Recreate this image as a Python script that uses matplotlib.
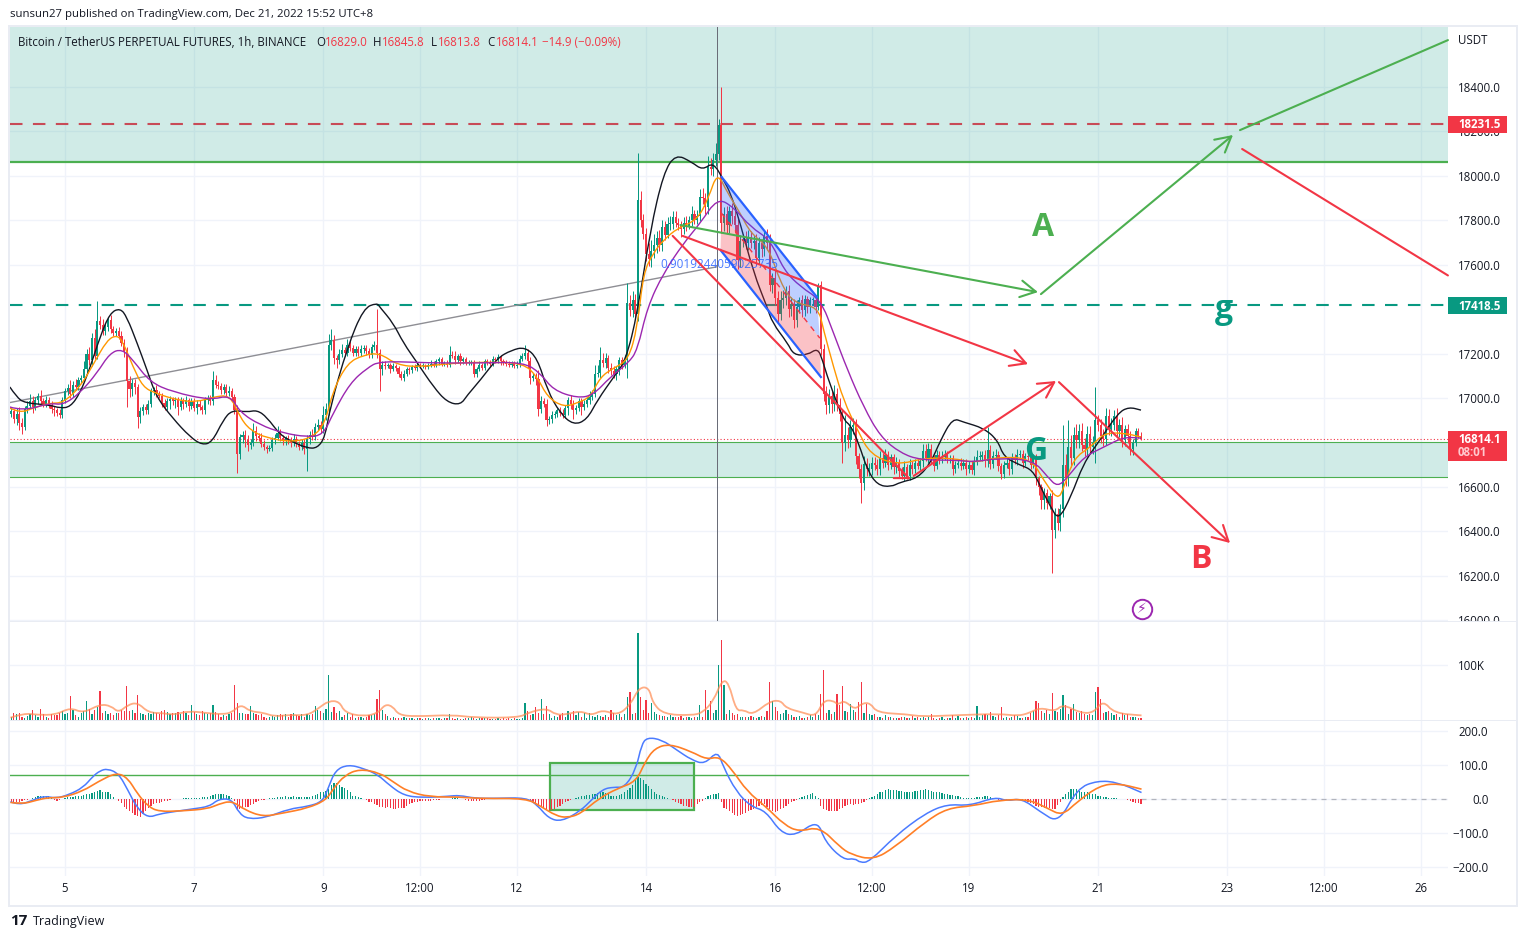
import numpy as np
import matplotlib
matplotlib.use('Agg')
import matplotlib.pyplot as plt
from matplotlib.patches import Rectangle, Polygon, PathPatch
from matplotlib.path import Path

plt.rcParams['font.family'] = ['Open Sans', 'DejaVu Sans']

# hourly bars, hour 0 = Dec 5 00:00, first bar is hour -20
closes = [
    16940,16905,16930,16890,16870,16950,16965,16985,16960,16990,17010,16985,16975,16990,16970,16950,16945,16935,16925,16990,
    17030,17045,17020,17060,17050,17080,17090,17130,17200,17170,17270,17190,17345,17330,17300,17320,17350,17310,17295,17300,
    17280,17250,17210,17075,17040,17070,17050,16915,16940,16960,16945,16975,17030,17035,17020,17010,16980,16960,16985,16995,
    16985,16990,16960,16985,16975,16990,16965,16985,16955,16975,16960,16945,16990,17000,16985,17080,17060,17055,17035,17050,
    17025,17030,17005,16945,16750,16825,16835,16810,16790,16800,16850,16830,16820,16795,16780,16770,16775,16810,16820,16845,
    16820,16805,16820,16810,16800,16815,16795,16780,16800,16770,16815,16835,16825,16870,16880,16860,16925,16950,17240,17260,
    17180,17170,17200,17215,17205,17240,17225,17205,17220,17205,17220,17225,17210,17195,17230,17240,17205,17130,17150,17145,
    17150,17130,17145,17135,17110,17090,17110,17130,17125,17140,17135,17150,17145,17145,17140,17150,17155,17150,17165,17175,
    17155,17155,17150,17195,17190,17170,17190,17165,17175,17160,17160,17160,17110,17130,17150,17135,17165,17160,17155,17175,
    17170,17185,17165,17160,17155,17150,17155,17145,17150,17175,17190,17205,17165,17090,17100,17085,16950,16985,16975,16900,
    16905,16925,16930,16945,16935,16925,16955,16990,16975,16945,16955,16985,16960,16975,16990,17005,17020,17110,17115,17170,
    17160,17180,17135,17120,17110,17130,17170,17150,17170,17430,17395,17440,17380,17890,17800,17740,17650,17625,17660,17690,
    17720,17690,17770,17735,17785,17785,17815,17790,17780,17760,17790,17775,17800,17830,17800,17820,17905,17900,17860,18040,
    18030,18070,18100,18230,17790,17830,17780,17840,17820,17780,17620,17705,17715,17700,17725,17700,17705,17630,17700,17670,
    17730,17700,17510,17540,17450,17380,17440,17450,17480,17400,17420,17350,17410,17440,17395,17445,17410,17440,17440,17410,
    17510,17220,17020,16970,17010,16975,17020,16970,16930,16800,16835,16810,16870,16880,16740,16680,16620,16705,16680,16680,
    16710,16700,16680,16730,16710,16745,16700,16735,16690,16710,16670,16650,16690,16650,16700,16680,16710,16695,16715,16760,
    16730,16770,16730,16695,16745,16725,16735,16745,16725,16730,16680,16700,16710,16695,16710,16680,16700,16675,16715,16735,
    16735,16745,16715,16765,16705,16740,16745,16695,16660,16700,16710,16680,16730,16720,16745,16750,16710,16740,16735,16700,
    16735,16640,16600,16540,16575,16530,16560,16405,16480,16440,16500,16700,16640,16780,16730,16835,16810,16850,16790,16770,
    16840,16780,16800,16900,16880,16830,16815,16920,16860,16880,16920,16850,16880,16810,16860,16830,16770,16800,16850,16829,
    16814]
upper_wicks = [
    15,10,25,30,20,15,20,35,25,15,15,25,15,20,15,15,15,10,15,15,
    15,20,35,15,25,15,15,35,20,30,25,40,90,25,25,20,15,25,15,15,
    20,20,15,20,25,15,15,15,20,15,15,15,15,15,25,10,15,15,15,15,
    10,15,15,20,15,20,10,15,15,15,15,10,15,15,15,40,25,15,15,15,
    15,25,15,15,25,15,15,20,25,15,40,25,15,25,15,10,15,15,20,30,
    15,15,10,15,15,25,15,10,15,15,20,15,25,20,25,15,40,30,50,50,
    25,15,20,30,15,25,15,15,15,15,20,15,15,15,15,15,160,15,15,15,
    10,10,15,10,10,10,15,10,10,10,15,10,10,15,10,10,15,10,10,10,
    10,10,15,40,15,20,10,15,10,10,10,10,10,10,15,10,10,10,10,15,
    10,15,10,10,10,10,10,10,15,20,15,35,15,20,15,15,40,25,15,20,
    15,15,10,10,15,15,15,15,25,15,15,15,15,15,15,25,15,40,35,60,
    35,25,15,25,25,15,15,15,25,90,35,40,30,215,40,30,25,50,50,50,
    30,35,30,25,30,35,25,25,20,15,25,30,20,35,15,25,35,40,25,50,
    40,35,50,25,170,30,35,25,40,35,35,30,25,35,30,25,30,35,25,15,
    25,30,40,25,35,30,40,35,25,30,35,25,30,15,25,20,15,15,15,20,
    10,15,25,35,30,25,40,25,30,20,90,35,30,30,25,15,25,35,25,30,
    25,25,25,30,25,25,15,15,15,25,15,20,25,15,25,15,15,15,15,35,
    35,30,25,15,20,15,25,20,15,15,15,15,15,20,15,15,15,15,25,30,
    25,15,20,105,25,20,25,15,15,15,20,15,25,20,25,15,15,15,15,25,
    15,15,10,15,20,15,15,25,25,25,25,180,50,120,55,35,50,35,40,30,
    35,35,30,150,25,25,30,35,30,30,25,35,25,35,20,25,20,15,15,15,
    17]
lower_wicks = [
    15,15,25,35,30,15,15,10,25,15,15,15,15,15,15,15,25,15,15,15,
    10,15,20,15,15,15,10,15,15,20,25,15,15,20,15,15,20,15,15,15,
    15,15,25,115,35,30,30,50,25,15,15,15,15,15,15,10,20,15,15,35,
    15,30,35,15,25,15,25,15,15,25,15,15,15,15,15,15,15,15,15,15,
    15,15,20,15,87,25,25,30,30,20,15,25,15,15,15,15,10,15,15,10,
    15,15,15,15,20,15,15,15,15,20,100,20,15,15,15,15,15,25,25,25,
    25,35,15,15,15,15,15,15,15,15,15,15,15,15,15,15,25,100,25,15,
    10,15,10,15,15,10,15,10,15,10,10,15,10,10,10,10,10,10,10,15,
    10,10,10,10,10,15,10,15,10,10,10,10,15,15,10,10,10,10,10,10,
    10,10,15,10,10,10,10,10,10,10,10,15,30,25,15,25,30,15,15,25,
    15,15,15,15,15,15,15,30,25,40,15,15,35,15,15,15,15,15,15,25,
    20,25,20,15,20,30,25,20,15,80,25,30,25,35,30,25,35,30,35,30,
    35,30,30,25,15,30,25,20,25,35,20,25,15,25,15,15,25,25,30,30,
    25,30,25,30,45,40,35,35,35,35,40,30,25,30,35,25,30,30,25,35,
    30,35,30,35,30,40,30,35,30,35,30,35,30,25,30,25,25,25,15,25,
    15,25,35,40,35,40,35,30,35,90,40,35,30,30,35,40,90,35,30,30,
    25,25,25,25,25,20,25,20,30,25,25,15,25,15,20,20,15,15,20,25,
    15,20,25,25,15,20,15,15,15,15,25,15,15,20,15,25,15,15,20,15,
    15,20,25,25,25,20,15,25,25,20,15,25,20,15,20,15,25,15,15,20,
    15,30,35,40,40,30,30,190,35,35,40,35,35,35,40,30,35,35,30,30,
    30,30,30,90,30,30,30,25,25,30,25,25,25,30,25,30,25,25,15,10,
    1]
# volume in thousands
volumes = [
    8,14,13,14,8,6,9,12,20,10,8,22,12,7,6,13,10,10,14,18,
    12,15,45,20,10,8,14,18,36,22,13,20,25,53,14,18,12,15,10,14,
    15,20,17,62,18,20,15,46,14,12,10,15,12,16,14,12,18,20,16,12,
    14,15,16,12,18,14,10,28,16,12,10,18,14,12,15,28,16,12,8,10,
    9,12,15,64,32,15,14,12,13,27,15,12,10,12,8,6,7,9,8,10,
    12,10,13,8,12,14,10,9,12,8,13,10,12,27,20,18,15,22,82,16,
    25,15,18,8,10,14,8,12,6,7,8,6,8,10,10,12,39,55,20,12,
    9,6,7,6,5,6,7,5,5,6,4,5,5,4,6,5,4,5,5,6,
    4,5,5,13,6,4,5,4,4,5,6,7,5,4,5,5,6,5,4,4,
    4,5,4,5,4,5,4,5,4,4,5,32,18,10,12,25,14,40,12,27,
    12,6,9,8,10,14,7,17,12,18,10,16,8,14,5,15,9,8,11,9,
    7,10,8,20,15,10,12,8,12,43,52,12,14,157,43,20,37,15,33,16,
    12,10,9,9,8,10,8,7,8,9,6,7,8,6,7,8,28,7,55,20,
    36,15,20,101,145,64,13,20,15,10,12,8,8,7,8,9,8,5,7,9,
    8,18,70,36,25,18,12,15,20,12,10,8,7,9,6,6,8,10,8,12,
    10,49,92,15,20,12,16,49,28,63,18,16,30,20,16,34,70,14,30,12,
    10,12,8,7,6,10,8,7,6,5,6,7,8,6,6,9,6,7,5,8,
    5,7,12,5,4,6,8,4,5,6,10,5,9,6,5,7,6,7,6,27,
    8,10,12,10,16,9,8,10,25,6,8,6,7,10,9,6,5,7,8,15,
    17,36,32,18,14,20,12,50,18,16,22,46,28,12,22,30,16,14,18,12,
    10,12,10,52,61,40,15,16,18,14,10,12,8,14,10,12,8,7,8,6,
    5]
macd_hist = [
    -10,-9,-9,-8,-6,-4,-3,-1,2,5,8,9,10,10,9,3,-4,-5,-3,1,
    3,5,6,7,8,9,10,12,14,16,18,20,23,25,22,22,20,14,5,0,
    -5,-12,-22,-30,-36,-42,-46,-50,-52,-45,-35,-25,-20,-16,-13,-12,-9,-7,-5,-3,
    -1,0,1,0,2,3,3,3,2,3,4,5,5,6,8,12,14,16,15,14,
    12,10,4,-5,-30,-28,-26,-24,-22,-18,-14,-10,-6,-4,-2,0,2,3,4,5,
    6,7,8,7,6,8,6,5,6,6,6,7,9,12,15,20,22,24,30,40,
    48,48,42,35,32,25,20,10,8,5,3,1,-3,-8,-10,-14,-18,-22,-24,-25,
    -24,-26,-28,-28,-27,-26,-25,-20,-15,-12,-10,-8,-7,-6,-5,-5,-5,-4,-3,-2,
    -1,0,1,1,2,2,2,1,0,-3,-5,-6,-7,-6,-5,-4,-2,-1,0,0,
    1,1,1,1,2,2,2,1,1,1,1,0,-3,-6,-10,-15,-18,-22,-26,-30,
    -32,-32,-28,-24,-20,-15,-10,-6,-2,1,4,6,8,10,11,12,14,16,18,20,
    20,18,14,10,8,9,12,15,20,25,32,42,55,66,62,55,45,38,30,22,
    15,12,8,5,2,0,-4,-8,-12,-16,-20,-21,-22,-22,-22,-16,-10,-6,2,8,
    12,14,16,18,-8,-25,-30,-36,-42,-46,-50,-48,-44,-40,-36,-32,-28,-24,-20,-17,
    -15,-22,-30,-36,-38,-34,-30,-26,-20,-15,-10,-6,-3,2,6,9,12,15,18,10,
    3,-20,-30,-32,-34,-35,-35,-34,-30,-26,-20,-18,-15,-18,-16,-15,-12,-8,-3,2,
    6,10,15,20,22,25,28,27,26,25,24,23,22,22,22,22,23,24,25,26,
    28,26,24,22,20,20,18,16,14,12,12,10,8,6,4,3,2,3,4,5,
    6,7,8,8,6,3,1,-2,-4,-5,-3,-1,0,1,1,0,-2,-4,-8,-12,
    -16,-20,-22,-24,-25,-26,-27,-28,-28,-18,-8,6,15,22,28,30,28,24,22,20,
    20,18,16,14,10,8,6,5,4,3,2,2,1,1,0,-3,-6,-9,-11,-13,
    -15]

black_hours = [-20.5,-18,-15,-5.6,-2,2,5.6,9,13,16.7,20.5,23,26.8,30.5,34,40,46.5,51,54.7,58.8,62,67.7,71.4,75,80,84.8,90,93.8,96.7,98.6,105,111,116,117,122,125.8,131,137,142,147,149.6,154.4,160.7,166,171,175.6,179.3,184,189,194,198,204,208.5,212.8,217.6,222.5,227,233,237,241,244.8,247.4,251,256,261,263,268.6,270.9,276,279.8,281.6,283.8,289.4,292,295,298.3,302,307,310.6,317,321.8,325.5,330,334,341.5,346.7,349,355,359.7,362.7,366.4,369.4,373.9,378.7,384,391.4,395.5,400]
black_vals = [17050,17005,16978,16969,16955,16960,17023,17126,17275,17383,17405,17365,17248,17126,17005,16910,16825,16789,16802,16901,16946,16937,16946,16915,16834,16802,16775,16775,16825,16960,17230,17405,17428,17410,17338,17248,17158,17050,16982,16969,17014,17081,17180,17216,17230,17180,17036,16933,16879,16902,16992,17095,17171,17383,17757,18013,18098,18062,18026,18062,17981,17923,17788,17563,17410,17338,17248,17194,17194,17225,17171,17081,16901,16879,16798,16676,16609,16600,16622,16640,16708,16811,16910,16892,16865,16811,16735,16699,16676,16600,16510,16451,16555,16708,16798,16933,16960,16946]
orange_hours = [-20.5,-16.7,-11.9,-5.6,-0.7,5.6,10.4,15.6,19.3,21.6,25.3,29,33.5,41.7,49,55,61.4,65,68.8,75,84.8,92.3,96.7,99.7,105,111,117,123.5,132,144.3,157,170.4,175.6,179.3,185.3,190.5,195.3,199,203.9,209.4,212.8,215,218.7,222.5,227.7,235,239.2,242.5,246.3,251,254.8,261.5,266,270.8,280,282,285.7,289.4,294.6,299.5,309.5,319.2,330.3,337.8,346.7,359,363.8,369,371.3,375,381.3,386.2,393.6,400]
orange_vals = [16955,16933,16955,16978,16978,17050,17149,17261,17284,17252,17140,17050,17023,16991,16982,17005,17014,16915,16856,16820,16802,16825,16888,17036,17158,17194,17203,17149,17140,17158,17162,17158,17095,17005,16960,16978,17005,17095,17135,17171,17320,17563,17653,17711,17765,17801,17900,18017,17923,17833,17743,17680,17518,17428,17410,17306,17140,16991,16856,16744,16699,16730,16730,16708,16735,16730,16631,16541,16595,16730,16780,16843,16843,16825]
purple_hours = [-20.5,-15.6,-5.6,-0.7,5.6,11.9,16.7,21.2,25.3,31.6,40.2,54,61.4,65,72.5,81,90,96,99.7,106,112.3,117,135.8,154.4,170.4,176.7,181.5,190.5,196.4,202.7,209.4,212.8,216.5,222.5,230,236.2,242.5,248.5,254.8,262.3,267.2,273.5,281,285.7,290.9,296.9,303.2,310.6,318,331.8,337.8,346.7,360,365.3,369,372.8,378.7,386.2,393.6,400]
purple_vals = [16960,16942,16978,16969,17023,17113,17203,17221,17171,17072,17027,16991,17014,16937,16879,16843,16825,16834,16933,17068,17135,17167,17158,17158,17162,17113,17036,17000,17014,17095,17158,17216,17410,17563,17698,17788,17900,17860,17770,17711,17576,17500,17441,17293,17126,16960,16825,16753,16721,16721,16712,16730,16721,16645,16600,16645,16735,16780,16825,16820]

vol_ma_hours = [-20.3,-15.2,-10.4,-3.5,2,6.8,13,17.1,19.9,23.4,27,31,36.4,40.6,46,53,58.5,62,65.4,68.8,73.6,77.8,83.3,90.2,94.3,98,102,104,110.9,116.4,119,121.9,124,130.1,143.9,152.2,168.7,172.2,179,182.5,186.6,191.6,195.7,199.9,205.4,210.2,213.4,217.1,218.5,222.6,232.9,237.1,241.2,244.2,246.7,249.5,252.2,255.7,261.9,266,268.1,274.3,279.1,281.9,285.3,287.4,289.7,293.6,296.3,299.4,301.8,312.9,318.4,329.4,347.3,354.2,358.3,362.5,368,371,377.6,382.5,385.9,390,400.2]
vol_ma_vals = [6,14,11,11,24,14,30,27,15,29,33,15,14,11,18,14,12,15,30,17,15,8,11,10,23,36,35,15,8,14,30,26,11,8,11,6,6,15,23,11,12,18,10,20,10,29,60,60,32,12,10,15,37,73,69,18,20,11,35,37,23,15,8,36,37,29,37,20,32,32,15,12,8,10,13,9,14,24,17,30,14,15,37,14,10]

macd_hours = [-20.3,-17,-11.8,-7.7,-3.5,1.3,6.8,10.3,13,15.8,19.9,23.4,26.8,30.9,35,40.6,47.5,53.7,57.1,62,64.7,68.1,75,83.3,90.2,95.7,97.8,100.5,105.3,110.9,116.4,120.5,126,132.9,142.5,146.7,152.2,160.5,171.5,175.6,179.8,184.6,191.6,195.7,199.9,204,208.1,212.3,214.3,216.4,221.9,227.4,232.9,237.8,242.6,244.7,249.5,255,260.5,266,271.5,279.8,282.5,289.4,293.6,295.6,299.1,308.7,319.8,328,336.3,345.9,350.1,355.6,362.5,369.4,376.3,383.8,391.4,400.2]
macd_vals = [-8,-18,-3,9,2,12,34,66,83,89,75,26,-27,-55,-44,-37,-29,-22,0,0,-42,-59,-54,-29,-22,-8,31,85,101,90,71,41,10,4,8,11,2,2,4,-18,-57,-66,-35,-3,29,35,34,88,159,181,174,144,115,102,142,95,22,-22,-35,-98,-108,-62,-125,-179,-174,-187,-184,-108,-42,-15,-20,6,-6,2,-37,-71,31,54,49,19]
signal_hours = [-20.3,-15.9,-10.4,-6.3,-0.8,6.8,12.3,19.2,23.4,26.8,30.9,35,43.3,53,57.1,62,66.8,73.6,80.5,90.2,97.1,99.8,104,109.5,117,121.9,127.4,135.7,146.7,155,171.5,177,182.5,186.6,191.6,198.5,205.4,212.3,215.7,219.2,224.7,232.9,238.5,243.3,248.1,253.6,260.5,267.4,272.9,280.5,288,292.2,300.5,308.7,319.8,328,337.7,347.3,358.3,365.2,370.7,376.3,384.5,391.4,400.2]
signal_vals = [-10,-15,-3,4,4,24,51,78,61,17,-22,-37,-35,-29,-15,-5,-32,-52,-42,-27,-3,31,70,88,77,51,22,6,6,1,2,-22,-49,-55,-44,2,31,51,110,149,162,139,116,125,85,22,-22,-76,-96,-81,-140,-163,-179,-140,-67,-27,-20,-3,-1,-27,-49,-8,39,46,29]

price_ticks = [18400,18200,18000,17800,17600,17200,17000,16600,16400,16200,16000]
time_ticks = [0,48,96,132,168,216,264,300,336,384,432,468,504]
time_labels = ['5','7','9','12:00','12','14','16','12:00','19','21','23','12:00','26']

W, H = 1528, 939
GREEN = '#089981'
RED = '#f23645'
LINE_GREEN = '#4caf50'
BLUE = '#2962ff'
GRID = '#f0f3fa'
TEXT = '#131722'
PX_PER_HOUR = 2.69
HOUR_LEFT = (10 - 65) / PX_PER_HOUR
HOUR_RIGHT = (1448 - 65) / PX_PER_HOUR


def ax_rect(x0, y0, x1, y1):
    return [x0 / W, 1 - y1 / H, (x1 - x0) / W, (y1 - y0) / H]


def fig_box(x0, y0, x1, y1, color, z=5):
    fig.add_artist(Rectangle((x0 / W, 1 - y1 / H), (x1 - x0) / W, (y1 - y0) / H,
                             transform=fig.transFigure, facecolor=color,
                             edgecolor='none', zorder=z))


def fig_label(x, y, s, color=TEXT, size=8.3, weight='normal', ha='left'):
    fig.text(x / W, 1 - y / H, s, color=color, fontsize=size, fontweight=weight,
             ha=ha, va='center', zorder=7)


def style_axis(ax, yticks):
    ax.set_xlim(HOUR_LEFT, HOUR_RIGHT)
    ax.set_yticks(yticks)
    ax.set_xticks(time_ticks)
    ax.grid(True, color=GRID, linewidth=1)
    ax.set_axisbelow(True)
    ax.yaxis.tick_right()
    ax.tick_params(length=0, labelsize=8.3, labelcolor=TEXT, pad=7, labelbottom=False)
    for s in ax.spines.values():
        s.set_visible(False)


def arrow(ax, start, end, color, head=True):
    style = '->,head_length=0.55,head_width=0.3' if head else '-'
    ax.annotate('', xy=end, xytext=start, zorder=6, annotation_clip=False,
                arrowprops=dict(arrowstyle=style, color=color, lw=1.5,
                                mutation_scale=20, shrinkA=0, shrinkB=0))


def smooth_line(ax, xs, ys, **kw):
    # rounded corners through the read points, the indicators are smooth curves
    pts = np.column_stack([xs, ys])
    verts = [pts[0]]
    codes = [Path.MOVETO]
    for i in range(1, len(pts) - 1):
        verts += [pts[i], (pts[i] + pts[i + 1]) / 2]
        codes += [Path.CURVE3, Path.CURVE3]
    verts.append(pts[-1])
    codes.append(Path.LINETO)
    ax.add_patch(PathPatch(Path(verts, codes), fill=False, **kw))


fig = plt.figure(figsize=(W / 100, H / 100), dpi=100, facecolor='white')
ax_price = fig.add_axes(ax_rect(10, 27, 1448, 622))
ax_vol = fig.add_axes(ax_rect(10, 622, 1448, 721))
ax_macd = fig.add_axes(ax_rect(10, 721, 1448, 876))

hours = np.arange(len(closes)) - 20
closes_arr = np.array(closes, dtype=float)
opens = np.r_[16930.0, closes_arr[:-1]]
up = closes_arr >= opens
bar_colors = np.where(up, GREEN, RED)
tops = np.maximum(opens, closes_arr)
bottoms = np.minimum(opens, closes_arr)

# price panel
style_axis(ax_price, price_ticks)
ax_price.set_ylim(15992.5, 18670)
ax_price.set_yticklabels([f'{t:.1f}' for t in price_ticks])
ax_price.axhspan(18062, 18670, color=GREEN, alpha=0.19, lw=0, zorder=1)
ax_price.axhspan(16647, 16803, color=GREEN, alpha=0.19, lw=0, zorder=1)
ax_price.axhline(18062, color=LINE_GREEN, lw=1.6, zorder=2)
ax_price.axhline(16803, color=LINE_GREEN, lw=0.8, zorder=2)
ax_price.axhline(16647, color=LINE_GREEN, lw=0.8, zorder=2)
ax_price.axhline(18231.5, color='#c84b57', lw=1.5, ls=(0, (6, 5)), zorder=2)
ax_price.axhline(17418.5, color=GREEN, lw=1.5, ls=(0, (6, 5)), zorder=2)
ax_price.axhline(16814.1, color=RED, lw=0.8, ls=(0, (1, 2)), zorder=2)

# gray trend line and crosshair
ax_price.plot([-20.5, 242.4], [16980, 17591], color='#8e8e94', lw=1, zorder=2.5)
ax_price.axvline(242.4, color='#6a6d78', lw=0.72, zorder=2.5)

wicks = ax_price.vlines(hours, bottoms - np.array(lower_wicks), tops + np.array(upper_wicks),
                        colors=bar_colors, lw=0.72, zorder=3)
wicks.set_snap(True)
ax_price.bar(hours, np.maximum(tops - bottoms, 4), bottom=bottoms, width=0.8,
             color=bar_colors, lw=0, zorder=3)

smooth_line(ax_price, black_hours, black_vals, edgecolor='#131722', lw=1, zorder=4)
smooth_line(ax_price, orange_hours, orange_vals, edgecolor='#ff9800', lw=1, zorder=4)
smooth_line(ax_price, purple_hours, purple_vals, edgecolor='#9c27b0', lw=1, zorder=4)

# channel drawing
chan_top = [(244.1, 17995), (279.5, 17455)]
chan_mid = [(244.0, 17833), (280.6, 17270)]
chan_bot = [(243.7, 17666), (281, 17095)]
ax_price.add_patch(Polygon(chan_top + chan_mid[::-1], facecolor=BLUE, alpha=0.3, lw=0, zorder=4.5))
ax_price.add_patch(Polygon(chan_mid + chan_bot[::-1], facecolor=RED, alpha=0.3, lw=0, zorder=4.5))
for seg in (chan_top, chan_bot):
    ax_price.plot(*zip(*seg), color=BLUE, lw=1.6, zorder=5)
ax_price.plot(*zip(*chan_mid), color=RED, lw=1, ls=(0, (4, 4)), zorder=5)
ax_price.text(243.3, 17600, '0.9019244059025735', color=BLUE, alpha=0.85, fontsize=8.5,
              ha='center', va='center', zorder=6)

# green path
arrow(ax_price, (228.8, 17779), (361.7, 17477), LINE_GREEN)
arrow(ax_price, (362.8, 17468), (434.2, 18184), LINE_GREEN)
arrow(ax_price, (436.8, 18206), (514.1, 18611), LINE_GREEN, head=False)
# red paths
arrow(ax_price, (229.6, 17730), (358, 17153), RED)
arrow(ax_price, (225.9, 17730), (313.7, 16640), RED, head=False)
arrow(ax_price, (308.1, 16640), (313.7, 16640), RED, head=False)
arrow(ax_price, (315.5, 16650), (368.4, 17077), RED)
arrow(ax_price, (369.5, 17072), (433.1, 16348), RED)
arrow(ax_price, (437.6, 18121), (514.1, 17552), RED, head=False)

ax_price.text(363.5, 17770, 'A', color=LINE_GREEN, fontsize=23, fontweight='bold', ha='center', va='center', zorder=6)
ax_price.text(431, 17400, 'g', color=GREEN, fontsize=23, fontweight='bold', ha='center', va='center', zorder=6)
ax_price.text(361, 16760, 'G', color=GREEN, fontsize=23, fontweight='bold', ha='center', va='center', zorder=6)
ax_price.text(422.3, 16275, 'B', color=RED, fontsize=23, fontweight='bold', ha='center', va='center', zorder=6)

# session-break icon
ax_price.plot([400.2], [16051], 'o', ms=14, mfc='white', mec='#9c27b0', mew=1.4, zorder=6)
ax_price.text(400.2, 16051, '\u26a1', color='#9c27b0', fontsize=10, ha='center', va='center',
              family='DejaVu Sans', zorder=7)

# volume panel
style_axis(ax_vol, [100])
ax_vol.set_ylim(0, 177)
ax_vol.set_yticklabels(['100K'])
ax_vol.bar(hours, volumes, width=0.45, color=bar_colors, lw=0, zorder=3)
smooth_line(ax_vol, vol_ma_hours, vol_ma_vals, edgecolor='#ff8a50', alpha=0.7, lw=1.3, zorder=4)

# macd panel
style_axis(ax_macd, [200, 100, 0, -100, -200])
ax_macd.set_ylim(-226, 229)
ax_macd.set_yticklabels(['200.0', '100.0', '0.0', '\u2212100.0', '\u2212200.0'])
for lab in ax_macd.get_yticklabels():
    lab.set_ha('right')
ax_macd.tick_params(axis='y', pad=29)
ax_macd.plot([400, HOUR_RIGHT], [0, 0], color='#b2b5be', lw=0.9, ls=(0, (4, 4)), zorder=2)
ax_macd.add_patch(Rectangle((180.2, -32), 53.5, 138, facecolor=GREEN, alpha=0.19, lw=0, zorder=1))
ax_macd.add_patch(Rectangle((180.2, -32), 53.5, 138, facecolor='none', edgecolor=LINE_GREEN, lw=1.6, zorder=2.5))
ax_macd.plot([HOUR_LEFT, 335.6], [70, 70], color=LINE_GREEN, lw=1, zorder=2.5)
ax_macd.bar(hours, macd_hist, width=0.45, color=[GREEN if v >= 0 else RED for v in macd_hist], lw=0, zorder=3)
smooth_line(ax_macd, macd_hours, macd_vals, edgecolor='#4b7bff', lw=1.1, zorder=4)
smooth_line(ax_macd, signal_hours, signal_vals, edgecolor='#ff7f27', lw=1.2, zorder=4)

# time labels
for t, lab in zip(time_ticks, time_labels):
    fig_label(65 + t * PX_PER_HOUR, 889, lab, ha='center')

# frame around the panels
for x0, y0, x1, y1 in [(8, 25, 10, 907), (8, 25, 1518, 27), (1516, 25, 1518, 907),
                       (8, 905, 1518, 907), (10, 621, 1516, 622), (10, 720, 1516, 721)]:
    fig_box(x0, y0, x1, y1, '#e9ecf3', z=4)
fig_box(1448, 622, 1516, 640, 'white', z=3.5)

# price tags
fig_label(1458, 41, 'USDT')
fig_box(1448, 116, 1507, 133, RED)
fig_label(1458, 125, '18231.5', color='white', weight='bold')
fig_box(1448, 297, 1507, 314, GREEN)
fig_label(1458, 306, '17418.5', color='white', weight='bold')
fig_box(1448, 431, 1507, 461, RED)
fig_label(1458, 440, '16814.1', color='white', weight='bold')
fig_label(1458, 453, '08:01', color='#ffc9ce', weight='bold')

# header and legend
fig_label(10, 14, 'sunsun27 published on TradingView.com, Dec 21, 2022 15:52 UTC+8', size=8.2)
fig_label(18, 42, 'Bitcoin / TetherUS PERPETUAL FUTURES, 1h, BINANCE', size=8.3)
fig_label(316, 42, 'O', size=8.3)
fig_label(325, 42, '16829.0', color=RED, size=8.3)
fig_label(373, 42, 'H', size=8.3)
fig_label(382, 42, '16845.8', color=RED, size=8.3)
fig_label(431, 42, 'L', size=8.3)
fig_label(438, 42, '16813.8', color=RED, size=8.3)
fig_label(487, 42, 'C', size=8.3)
fig_label(496, 42, '16814.1', color=RED, size=8.3)
fig_label(542, 42, '\u221214.9 (\u22120.09%)', color=RED, size=8.3)

# footer
fig_label(10, 921, '17', size=11, weight='bold')
fig_label(33, 921, 'TradingView', size=9)

fig.savefig('out.png', dpi=100)
